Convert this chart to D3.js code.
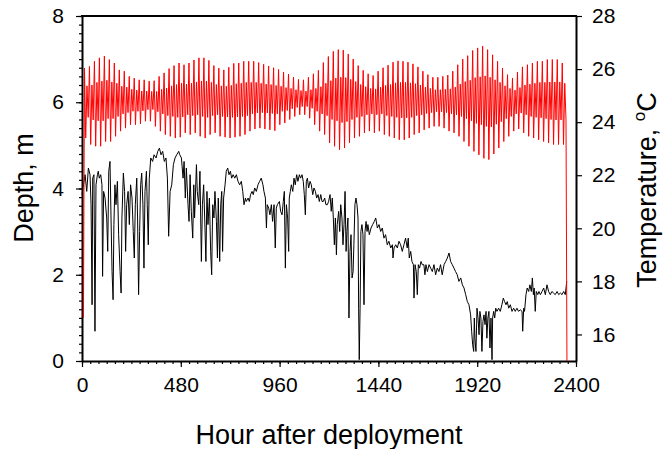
<!DOCTYPE html>
<html>
<head>
<meta charset="utf-8">
<script src="https://cdn.jsdelivr.net/npm/d3@7"></script>
<style>
  body { margin: 0; background: #fff; }
  svg { display: block; }
  text { font-family: "Liberation Sans", Arial, sans-serif; fill: #000; }
</style>
</head>
<body>
<svg width="664" height="449"></svg>
<script>
// depth record: one entry per tidal cycle (high, low, second high, second low)
var redHigh = [6.79,6.83,6.95,7.03,7.07,6.99,6.91,6.75,6.72,6.60,
  6.56,6.52,6.52,6.49,6.50,6.60,6.68,6.78,6.85,6.91,
  6.87,6.91,6.98,7.03,7.03,6.97,6.85,6.79,6.75,6.81,
  6.90,6.91,6.95,6.95,6.95,6.92,6.88,6.84,6.80,6.76,
  6.70,6.65,6.58,6.53,6.52,6.58,6.66,6.74,6.92,7.06,
  7.18,7.22,7.21,7.12,7.00,6.85,6.74,6.66,6.62,6.72,
  6.80,6.86,6.93,6.96,6.95,6.93,6.89,6.82,6.72,6.64,
  6.58,6.58,6.60,6.63,6.72,6.87,7.00,7.08,7.20,7.26,
  7.30,7.22,7.10,6.95,6.79,6.64,6.56,6.70,6.82,6.87,
  6.91,6.95,6.95,6.99,6.99,6.99,6.91];
var redLow = [5.17,5.02,4.98,4.98,5.09,5.09,5.21,5.33,5.40,5.48,
  5.48,5.50,5.56,5.56,5.44,5.33,5.25,5.21,5.17,5.19,
  5.29,5.25,5.29,5.21,5.17,5.25,5.29,5.21,5.19,5.17,
  5.19,5.21,5.25,5.33,5.38,5.40,5.38,5.36,5.34,5.48,
  5.52,5.60,5.67,5.71,5.71,5.63,5.48,5.33,5.25,5.06,
  4.98,4.90,4.94,5.06,5.17,5.21,5.29,5.33,5.29,5.33,
  5.25,5.21,5.17,5.13,5.13,5.17,5.25,5.29,5.36,5.40,
  5.44,5.44,5.40,5.33,5.29,5.21,5.09,4.98,4.86,4.78,
  4.70,4.67,4.80,4.94,5.09,5.21,5.33,5.38,5.29,5.21,
  5.17,5.13,5.09,5.06,5.02,5.02,5.02];
var redHigh2 = [6.38,6.40,6.46,6.49,6.51,6.47,6.44,6.37,6.35,6.30,
  6.28,6.26,6.26,6.25,6.25,6.30,6.33,6.38,6.41,6.44,
  6.42,6.44,6.47,6.49,6.49,6.46,6.41,6.38,6.37,6.39,
  6.43,6.44,6.46,6.46,6.46,6.44,6.42,6.41,6.39,6.37,
  6.34,6.32,6.29,6.27,6.26,6.29,6.32,6.36,6.44,6.50,
  6.56,6.58,6.57,6.53,6.48,6.41,6.36,6.32,6.31,6.35,
  6.39,6.41,6.45,6.46,6.46,6.45,6.43,6.40,6.35,6.32,
  6.29,6.29,6.30,6.31,6.35,6.42,6.48,6.51,6.57,6.59,
  6.61,6.58,6.52,6.46,6.38,6.32,6.28,6.34,6.40,6.42,
  6.44,6.46,6.46,6.47,6.47,6.47,6.44];
var redLow2 = [5.65,5.59,5.57,5.57,5.62,5.62,5.67,5.73,5.76,5.79,
  5.79,5.80,5.83,5.83,5.78,5.73,5.69,5.67,5.65,5.66,
  5.71,5.69,5.71,5.67,5.65,5.69,5.71,5.67,5.66,5.65,
  5.66,5.67,5.69,5.73,5.75,5.76,5.75,5.74,5.73,5.79,
  5.81,5.85,5.88,5.90,5.90,5.86,5.79,5.73,5.69,5.60,
  5.57,5.53,5.55,5.60,5.65,5.67,5.71,5.73,5.71,5.73,
  5.69,5.67,5.65,5.64,5.64,5.65,5.69,5.71,5.74,5.76,
  5.78,5.78,5.76,5.73,5.71,5.67,5.62,5.57,5.51,5.48,
  5.44,5.43,5.49,5.55,5.62,5.67,5.73,5.75,5.71,5.67,
  5.65,5.64,5.62,5.60,5.59,5.59,5.59];
var cycleStart = 12, cyclePeriod = 24.18;
var redStart = [7, 1.0], redEnd = [2356, 0];

// temperature record
var tempHour = [0,7,15,23,31,39,44,49,52,58,63,68,75,79,84,91,97,100,105,112,
  120,125,130,136,141,146,151,155,160,165,172,178,185,190,194,201,207,212,217,224,
  230,236,243,249,254,259,266,270,275,280,285,290,296,301,306,313,317,322,327,334,
  343,350,360,368,376,384,392,400,408,415,421,428,436,444,452,460,470,
  475,483,491,496,502,507,515,520,525,531,538,543,547,556,560,567,573,580,585,591,
  596,602,607,612,619,625,630,635,641,646,653,658,662,669,674,679,683,688,695,701,
  708,714,721,727,734,742,750,758,766,774,781,787,794,798,807,813,819,826,832,839,
  847,855,863,871,879,884,891,896,900,907,913,920,926,933,939,944,949,
  959,965,972,978,983,988,993,999,1004,1007,1012,1017,1024,1030,1036,1043,1049,1056,1062,1069,
  1075,1080,1085,1090,1095,1101,1108,1114,1121,1127,1134,1140,1147,1153,1160,1166,1172,1179,1185,1192,
  1198,1205,1211,1216,1221,1226,1231,1236,1240,1247,1252,1257,1263,1268,1273,1278,1283,1287,1292,1297,
  1302,1307,1312,1317,1321,1326,1331,1336,1341,1344,1347,1351,1355,1360,1365,1370,1375,1380,1385,1389,
  1396,1404,1412,1420,
  1427,1435,1443,1451,1459,1467,1475,1483,1491,1500,1508,1511,1516,1524,1532,1540,1548,1556,1564,1572,
  1580,1585,1590,1597,1603,1610,1613,1618,1624,1629,1634,1640,1647,1653,1661,1666,1671,1678,1686,1694,
  1702,1710,1718,1726,1734,1742,1750,1759,1767,1775,1783,1791,1799,1807,1815,1823,1831,1840,1848,1856,
  1864,1872,1880,1888,1893,1898,1903,
  1906,1909,1914,1919,1924,1929,1933,1938,1943,1948,1953,1958,1963,1967,1972,1977,1982,1987,1992,1995,
  2000,2005,2010,2016,2024,2032,2040,2047,2053,2060,2066,2073,2081,2089,2097,2105,2113,2121,2129,2138,
  2141,2146,2150,2157,2163,2170,2176,2183,2188,2193,2197,2202,2207,2214,2220,2227,2235,2243,2251,2259,
  2267,2275,2283,2291,2299,2308,2316,2324,2332,2340,2348,2355];
var tempC = [21.27,21.64,22.02,21.39,22.27,22.02,20.89,17.12,21.89,22.02,16.12,21.64,22.02,22.15,21.89,22.02,21.64,18.19,21.39,21.14,
  20.39,19.13,22.15,22.52,20.39,18.37,17.31,20.14,21.64,20.89,21.77,19.76,18.37,17.56,20.39,22.08,21.39,19.13,20.89,21.39,
  20.14,21.64,21.14,19.88,18.88,20.89,21.89,20.39,17.50,19.88,21.64,22.08,20.89,18.50,21.39,22.15,20.89,19.38,21.89,22.65,
  22.52,22.77,22.65,22.90,23.02,22.77,22.90,22.52,22.65,21.89,19.70,21.39,21.64,22.40,22.65,22.77,22.90,
  22.77,22.65,21.89,22.52,21.14,22.27,20.89,20.26,22.02,20.64,19.63,21.64,20.39,22.40,21.39,20.89,22.15,18.75,20.89,21.64,
  20.39,18.75,21.39,20.14,21.14,19.13,18.25,20.89,20.39,21.39,20.26,18.88,21.14,18.75,20.89,21.39,19.13,21.14,21.64,22.15,
  22.27,22.02,22.15,21.89,22.02,21.89,22.02,21.77,21.64,21.77,21.39,20.89,21.14,21.01,21.14,21.01,21.27,21.39,21.27,21.52,
  21.39,21.64,21.77,21.89,21.64,21.39,21.14,20.01,20.89,20.76,20.51,20.89,20.26,20.89,19.26,20.76,20.89,
  21.01,20.64,20.51,21.01,21.39,18.50,20.89,20.39,19.13,21.14,21.39,21.64,21.39,21.89,21.64,22.02,21.77,22.02,21.89,22.02,
  21.77,21.27,20.51,21.77,21.89,21.52,21.77,21.64,21.27,21.52,21.39,21.14,21.27,21.01,21.27,21.01,21.01,21.14,20.89,20.89,
  21.01,21.27,20.64,21.14,20.39,19.38,20.39,19.00,20.14,20.64,19.88,20.89,20.39,19.38,20.14,21.39,19.13,19.88,20.39,16.62,
  19.13,19.76,18.13,18.37,19.38,20.89,21.14,20.89,20.39,16.99,15.05,16.99,19.88,20.14,19.76,17.12,19.88,20.26,19.88,20.14,
  19.76,20.01,20.14,20.26,
  20.39,20.01,20.14,19.88,20.01,19.63,19.76,19.38,19.51,19.26,19.38,18.88,19.26,19.38,19.26,19.51,19.38,19.13,19.38,19.63,
  19.26,19.63,18.88,19.13,18.75,18.63,17.37,18.63,18.37,17.50,18.63,18.50,18.75,18.63,18.63,18.25,18.63,18.37,18.63,18.50,
  18.37,18.63,18.25,18.50,18.37,18.63,18.25,18.63,18.75,18.88,19.07,18.75,18.63,18.50,18.37,18.25,18.00,18.13,17.87,17.75,
  17.50,17.24,17.12,16.74,16.12,15.61,15.36,
  16.62,15.86,15.36,16.99,16.62,15.99,16.87,16.62,15.36,16.49,16.74,16.37,16.87,15.86,16.62,16.87,15.49,16.62,15.05,16.62,
  16.87,16.62,16.99,16.87,16.99,16.87,17.12,17.37,17.24,17.12,17.24,16.99,17.12,16.87,16.99,16.87,16.99,16.87,16.93,16.87,
  16.12,16.99,16.87,17.50,17.75,17.62,17.87,17.62,18.13,17.50,17.75,16.87,17.62,17.50,17.62,17.50,17.62,17.75,17.50,17.87,
  17.62,17.50,17.62,17.56,17.50,17.62,17.50,17.56,17.50,17.62,17.50,18.00];

var xTicks = [0, 480, 960, 1440, 1920, 2400];
var depthTicks = [0, 2, 4, 6, 8];
var tempTicks = [16, 18, 20, 22, 24, 26, 28];

var svg = d3.select("svg"),
    plotLeft = 82, plotRight = 576, plotTop = 16, plotBottom = 361;

var x = d3.scaleLinear().domain([0, 2400]).range([plotLeft, plotRight]);
var yDepth = d3.scaleLinear().domain([0, 8]).range([plotBottom, plotTop]);
var yTemp = d3.scaleLinear().domain([15, 28]).range([plotBottom, plotTop]);

// build series
var redPts = [redStart];
redHigh.forEach(function(h, i) {
  var t = cycleStart + i * cyclePeriod;
  redPts.push([t, h]);
  redPts.push([t + cyclePeriod * 0.25, redLow[i]]);
  redPts.push([t + cyclePeriod * 0.5, redHigh2[i]]);
  redPts.push([t + cyclePeriod * 0.75, redLow2[i]]);
});
redPts.push(redEnd);
var tempPts = tempHour.map(function(h, i) { return [h, tempC[i]]; });

// minor ticks
svg.append("g")
    .attr("transform", "translate(" + plotLeft + ",0)")
    .call(d3.axisLeft(yDepth).tickValues(d3.range(0, 8.01, 0.2)).tickSize(3).tickSizeOuter(0).tickFormat(""))
    .call(function(g) { g.select(".domain").remove(); });
svg.append("g")
    .attr("transform", "translate(0," + plotBottom + ")")
    .call(d3.axisBottom(x).tickValues(d3.range(0, 2401, 40)).tickSize(3).tickSizeOuter(0).tickFormat(""))
    .call(function(g) { g.select(".domain").remove(); });

// major axes
var fmt = d3.format("d");
var gLeft = svg.append("g")
    .attr("transform", "translate(" + plotLeft + ",0)")
    .call(d3.axisLeft(yDepth).tickValues(depthTicks).tickFormat(fmt).tickSize(6).tickSizeOuter(0).tickPadding(12));
var gRight = svg.append("g")
    .attr("transform", "translate(" + plotRight + ",0)")
    .call(d3.axisRight(yTemp).tickValues(tempTicks).tickFormat(fmt).tickSize(6).tickSizeOuter(0).tickPadding(10));
var gBottom = svg.append("g")
    .attr("transform", "translate(0," + plotBottom + ")")
    .call(d3.axisBottom(x).tickValues(xTicks).tickFormat(fmt).tickSize(6).tickSizeOuter(0).tickPadding(10));

[gLeft, gRight, gBottom].forEach(function(g) {
  g.attr("font-family", null).attr("font-size", null);
  g.selectAll("text").style("font-size", "21px");
  g.select(".domain").attr("stroke-width", 2);
});
svg.selectAll(".tick line").attr("stroke-width", 1.2);

svg.append("line")
    .attr("x1", plotLeft - 1).attr("x2", plotRight + 1)
    .attr("y1", plotTop).attr("y2", plotTop)
    .attr("stroke", "#000").attr("stroke-width", 2);

// data lines over the frame
svg.append("path")
    .datum(tempPts)
    .attr("fill", "none")
    .attr("stroke", "#000")
    .attr("stroke-width", 1)
    .attr("d", d3.line().x(function(d) { return x(d[0]); }).y(function(d) { return yTemp(d[1]); }));

svg.append("path")
    .datum(redPts)
    .attr("fill", "none")
    .attr("stroke", "#ff0000")
    .attr("stroke-width", 1)
    .attr("d", d3.line().x(function(d) { return x(d[0]); }).y(function(d) { return yDepth(d[1]); }));

// titles
svg.append("text")
    .attr("x", (plotLeft + plotRight) / 2).attr("y", 444)
    .attr("text-anchor", "middle").style("font-size", "27px")
    .text("Hour after deployment");
svg.append("text")
    .attr("transform", "translate(33,188) rotate(-90)")
    .attr("text-anchor", "middle").style("font-size", "27px")
    .text("Depth, m");
var tt = svg.append("text")
    .attr("transform", "translate(656,190) rotate(-90)")
    .attr("text-anchor", "middle").style("font-size", "27px");
tt.append("tspan").text("Temperature, ");
tt.append("tspan").style("font-size", "17px").attr("dy", -11).text("o");
tt.append("tspan").attr("dy", 11).text("C");
</script>
</body>
</html>
